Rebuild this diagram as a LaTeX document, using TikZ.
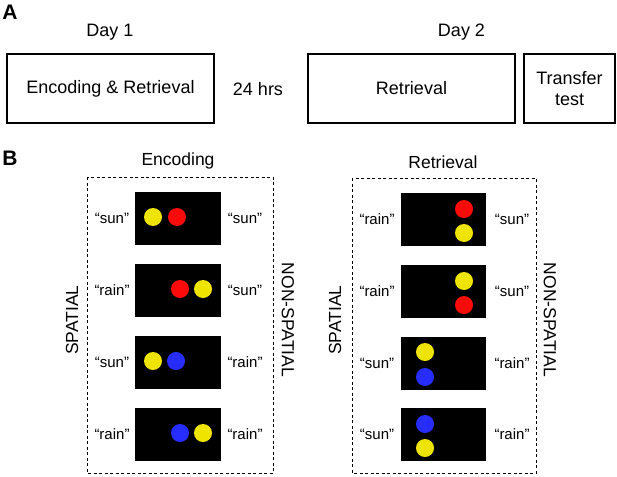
\documentclass[tikz,border=0pt]{standalone}
\usepackage{fontspec}
\setmainfont{Liberation Sans}
\definecolor{dyel}{RGB}{238,228,0}
\definecolor{dred}{RGB}{255,10,10}
\definecolor{dblue}{RGB}{40,45,255}
\begin{document}
\begin{tikzpicture}[x=1pt,y=-1pt,
  phase/.style={draw=black,line width=1.6pt,minimum height=69pt,inner sep=0pt,font=\fontsize{18}{21.5}\selectfont},
  atext/.style={inner sep=0pt,font=\fontsize{18}{21.5}\selectfont},
  panel/.style={inner sep=0pt,font=\bfseries\fontsize{21}{21}\selectfont},
  title/.style={inner sep=0pt,font=\fontsize{17.5}{20}\selectfont},
  quote/.style={inner sep=0pt,font=\fontsize{15}{17}\selectfont},
  screen/.style={fill=black,draw=none,minimum width=86pt,minimum height=53pt,inner sep=0pt},
  frame/.style={draw=black,line width=0.9pt,dash pattern=on 3pt off 2.5pt},
  dot/.style={circle,minimum size=18pt,inner sep=0pt,draw=none}]
\useasboundingbox (0,0) rectangle (617,476);
% Panel A
\node[panel] (A) at (10,12.5) {A};
\node[atext] (day1) at (110,32) {Day 1};
\node[atext] (day2) at (461.5,32) {Day 2};
\node[phase,minimum width=207pt] (enc) at (110.5,88.5) {Encoding \& Retrieval};
\node[atext] (hrs) at (258,89) {24 hrs};
\node[phase,minimum width=207pt] (ret) at (411.5,88.5) {Retrieval};
\node[phase,minimum width=91pt,align=center] (tt) at (569.5,88.5) {Transfer\\test};
% Panel B
\node[panel] (B) at (10,158) {B};
\node[title] (enct) at (178,161) {Encoding};
\node[title] (rett) at (443,162) {Retrieval};
\draw[frame] (87,177) rectangle (273,473);
\draw[frame] (352,178) rectangle (536,473);
\node[title,rotate=90] (sp1) at (72,320) {SPATIAL};
\node[title,rotate=-90] (ns1) at (288,320) {NON-SPATIAL};
\node[title,rotate=90] (sp2) at (335,320) {SPATIAL};
\node[title,rotate=-90] (ns2) at (550,320) {NON-SPATIAL};
% screens
\node[screen] (l1) at (178,218.5) {};
\node[screen] (l2) at (178,290) {};
\node[screen] (l3) at (178,362) {};
\node[screen] (l4) at (178,434) {};
\node[screen,minimum width=85pt] (r1) at (443.5,219.5) {};
\node[screen,minimum width=85pt] (r2) at (443.5,291) {};
\node[screen,minimum width=85pt] (r3) at (443.5,363) {};
\node[screen,minimum width=85pt] (r4) at (443.5,434.5) {};
% left dots
\node[dot,fill=dyel] (l1a) at (153,217) {};
\node[dot,fill=dred] (l1b) at (177,217) {};
\node[dot,fill=dred] (l2a) at (180,289) {};
\node[dot,fill=dyel] (l2b) at (203,289) {};
\node[dot,fill=dyel] (l3a) at (153,361) {};
\node[dot,fill=dblue] (l3b) at (176,361) {};
\node[dot,fill=dblue] (l4a) at (180,433) {};
\node[dot,fill=dyel] (l4b) at (203,433) {};
% right dots
\node[dot,fill=dred] (r1a) at (464,209) {};
\node[dot,fill=dyel] (r1b) at (464,233) {};
\node[dot,fill=dyel] (r2a) at (464,281) {};
\node[dot,fill=dred] (r2b) at (464,305) {};
\node[dot,fill=dyel] (r3a) at (425,352) {};
\node[dot,fill=dblue] (r3b) at (425,377) {};
\node[dot,fill=dblue] (r4a) at (425,424) {};
\node[dot,fill=dyel] (r4b) at (425,448) {};
% left labels
\node[quote] (q11) at (112,218.5) {“sun”};
\node[quote] (q12) at (245,218.5) {“sun”};
\node[quote] (q21) at (112,290) {“rain”};
\node[quote] (q22) at (245,290) {“sun”};
\node[quote] (q31) at (112,362) {“sun”};
\node[quote] (q32) at (245,362) {“rain”};
\node[quote] (q41) at (112,434) {“rain”};
\node[quote] (q42) at (245,434) {“rain”};
% right labels
\node[quote] (p11) at (377,219.5) {“rain”};
\node[quote] (p12) at (512,219.5) {“sun”};
\node[quote] (p21) at (377,291) {“rain”};
\node[quote] (p22) at (512,291) {“sun”};
\node[quote] (p31) at (377,363) {“sun”};
\node[quote] (p32) at (512,363) {“rain”};
\node[quote] (p41) at (377,434.5) {“sun”};
\node[quote] (p42) at (512,434.5) {“rain”};
\end{tikzpicture}
\end{document}
